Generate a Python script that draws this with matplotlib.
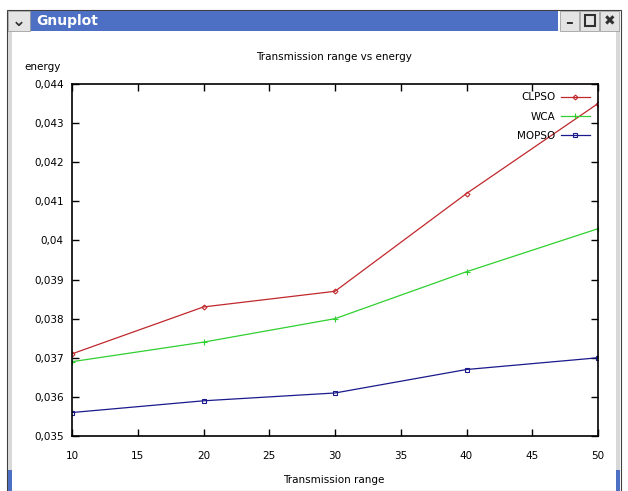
import matplotlib.pyplot as plt
import matplotlib.patches as patches
from matplotlib.ticker import MultipleLocator, FuncFormatter

plt.rcParams['font.family'] = ['Liberation Sans Narrow', 'DejaVu Sans']

ranges = [10, 20, 30, 40, 50]
clpso = [0.0371, 0.0383, 0.0387, 0.0412, 0.0435]
wca = [0.0369, 0.0374, 0.0380, 0.0392, 0.0403]
mopso = [0.0356, 0.0359, 0.0361, 0.0367, 0.0370]

fig = plt.figure(figsize=(6.28, 4.91), dpi=100)
W, H = 628.0, 491.0

def box(x0, y0, x1, y1, **kw):
    # pixel coords, y from top
    fig.patches.append(patches.Rectangle((x0 / W, 1 - y1 / H), (x1 - x0) / W, (y1 - y0) / H,
                                         transform=fig.transFigure, figure=fig, zorder=-1, **kw))

# window frame
box(7, 10, 621, 491, facecolor='white', edgecolor='#404040', lw=0.8)
box(8, 31, 12, 491, facecolor='#d8d8d8', edgecolor='none')
box(616, 31, 620, 491, facecolor='#d8d8d8', edgecolor='none')
box(30, 11, 558, 31, facecolor='#4d6fc4', edgecolor='none')
box(8, 11, 30, 31, facecolor='#e4e4e4', edgecolor='#909090', lw=0.5)
for x0 in (560, 580, 600):
    box(x0, 11, x0 + 19, 31, facecolor='#e4e4e4', edgecolor='#909090', lw=0.5)
box(8, 470, 12, 491, facecolor='#4d6fc4', edgecolor='none')
box(616, 470, 620, 491, facecolor='#4d6fc4', edgecolor='none')
fig.text(36 / W, 1 - 21 / H, 'Gnuplot', color='white', fontsize=10, fontweight='bold',
         va='center', ha='left', family='DejaVu Sans')
fig.text(19 / W, 1 - 21 / H, '\u2304', color='#303030', fontsize=12, fontweight='bold',
         va='center', ha='center', family='DejaVu Sans')
fig.text(569.5 / W, 1 - 22 / H, '\u2013', color='#303030', fontsize=11, fontweight='bold',
         va='center', ha='center', family='DejaVu Sans')
box(585, 15, 595, 26, facecolor='none', edgecolor='#303030', lw=1.5)
fig.text(609.5 / W, 1 - 21 / H, '\u2716', color='#303030', fontsize=10,
         va='center', ha='center', family='DejaVu Sans')

ax = fig.add_axes([72 / W, 1 - 436 / H, 526 / W, 352 / H])
ax.set_zorder(5)
ax.plot(ranges, clpso, color='#c0282c', lw=0.9, marker='D', ms=2.5, mfc='none', mew=0.8, label='CLPSO')
ax.plot(ranges, wca, color='#30d030', lw=0.9, marker='+', ms=5, mew=0.8, label='WCA')
ax.plot(ranges, mopso, color='#1a1a8c', lw=0.9, marker='s', ms=3.5, mfc='none', mew=0.8, label='MOPSO')

ax.set_xlim(10, 50)
ax.set_ylim(0.035, 0.044)
ax.xaxis.set_major_locator(MultipleLocator(5))
ax.yaxis.set_major_locator(MultipleLocator(0.001))
ax.yaxis.set_major_formatter(FuncFormatter(lambda v, p: ('%g' % round(v, 3)).replace('.', ',')))
ax.tick_params(direction='in', top=True, right=True, length=5, width=1, labelsize=7.5)
ax.tick_params(axis='y', pad=6)
ax.tick_params(axis='x', pad=11)
for s in ax.spines.values():
    s.set_linewidth(1.2)

fig.text(334 / W, 1 - 57 / H, 'Transmission range vs energy', fontsize=7.5, ha='center', va='center')
fig.text(24 / W, 1 - 67 / H, 'energy', fontsize=7.5, ha='left', va='center')
fig.text(334 / W, 1 - 480 / H, 'Transmission range', fontsize=7.5, ha='center', va='center')

ax.legend(loc='upper right', frameon=False, markerfirst=False, fontsize=7.5,
          handlelength=2.8, labelspacing=0.9, borderaxespad=0.4, handletextpad=0.5)

fig.savefig('out.png', dpi=100)
